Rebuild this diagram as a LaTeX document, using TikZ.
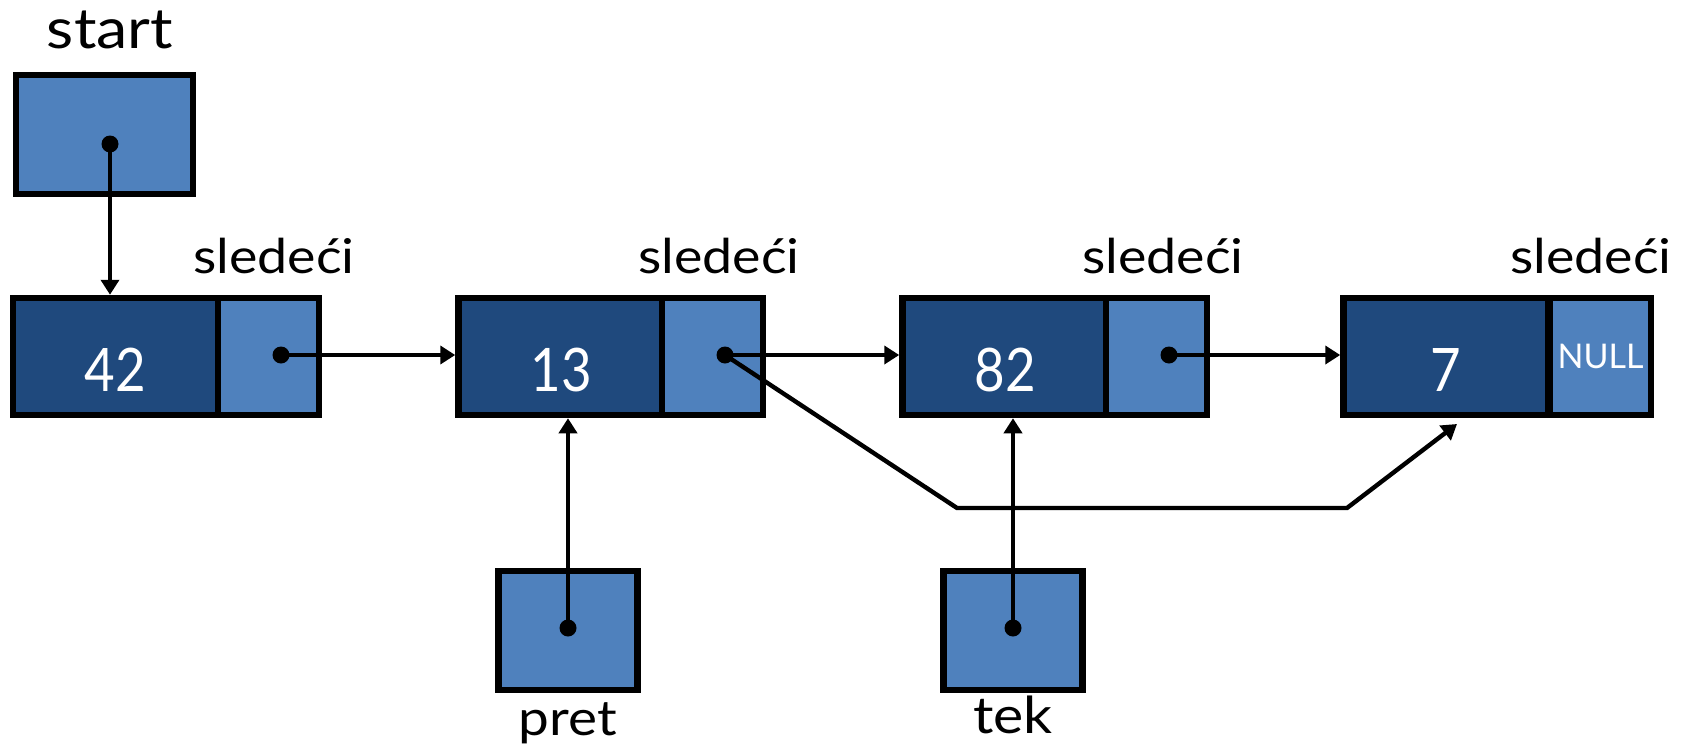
\documentclass[tikz,border=0pt]{standalone}
\usepackage{fontspec}
\setmainfont{Lato}[FakeStretch=1.12]
\newfontfamily\numfont{Lato}[FakeStretch=0.88]
\newfontfamily\plainfont{Lato}
\usetikzlibrary{arrows.meta,calc}
\definecolor{cellDark}{RGB}{31,73,125}
\definecolor{cellLight}{RGB}{79,129,189}
\begin{document}
\begin{tikzpicture}[x=1pt,y=-1pt,
  box/.style={draw=black,line width=6.5pt,inner sep=0pt},
  datacell/.style={box,fill=cellDark,minimum width=205pt,minimum height=117pt,
    text=white,font=\numfont\fontsize{60}{64}\selectfont,text height=70pt,text depth=0pt},
  ptrcell/.style={box,fill=cellLight,minimum width=101pt,minimum height=117pt},
  varbox/.style={box,fill=cellLight,minimum height=119pt},
  link/.style={line width=4.4pt,-{Triangle[length=15pt,width=18pt]}},
  dot/.style={fill=black},
  caption/.style={font=\fontsize{48}{52}\selectfont,inner sep=0pt},
  nullmark/.style={font=\plainfont\fontsize{34}{36}\selectfont,text=white}
]
\useasboundingbox (0,0) rectangle (1681,747);

% list nodes: data cell + pointer cell
\node[datacell] (d1) at (115.5,356.5) {42};
\node[ptrcell]  (p1) at (268.5,356.5) {};
\node[datacell] (d2) at (561,356.5) {13};
\node[ptrcell]  (p2) at (712.5,356.5) {};
\node[datacell] (d3) at (1005,356.5) {82};
\node[ptrcell]  (p3) at (1156.5,356.5) {};
\node[datacell] (d4) at (1446,356.5) {7};
\node[ptrcell,nullmark] (p4) at (1600.5,356.5) {NULL};

% pointer variables
\node[varbox,minimum width=177pt] (start) at (104.5,134.5) {};
\node[varbox,minimum width=139pt] (pret) at (568,630.5) {};
\node[varbox,minimum width=139pt] (tek) at (1013,630.5) {};

% captions
\node[caption,font=\fontsize{56}{60}\selectfont,anchor=base] (tstart) at (110,48) {start};
\node[caption,font=\fontsize{49}{52}\selectfont,anchor=base] (tpret) at (568,735) {pret};
\node[caption,font=\fontsize{51}{54}\selectfont,anchor=base] (ttek) at (1013,733) {tek};
\node[caption,anchor=base east] (s1) at (355,273) {sledeći};
\node[caption,anchor=base east] (s2) at (800,273) {sledeći};
\node[caption,anchor=base east] (s3) at (1244,273) {sledeći};
\node[caption,anchor=base east] (s4) at (1672,273) {sledeći};

% pointer origins
\coordinate (q0) at (110,144);
\coordinate (q1) at (281,355);
\coordinate (q2) at (725,355);
\coordinate (q3) at (1169,355);
\coordinate (qp) at (568,628);
\coordinate (qt) at (1013,628);
\coordinate (b1) at (957,508);
\coordinate (b2) at (1347,508);
\coordinate (tip) at (1457,424);

% links
\draw[link] (q0) -- (q0 |- d1.north);
\draw[link] (q1) -- (q1 -| d2.west);
\draw[link] (q2) -- (q2 -| d3.west);
\draw[link] (q3) -- (q3 -| d4.west);
\draw[link] (qp) -- (qp |- d2.south);
\draw[link] (qt) -- (qt |- d3.south);
\draw[link,line join=miter] (q2) -- (b1) -- (b2) -- (tip);

\foreach \q in {q0,q1,q2,q3,qp,qt} \fill[dot] (\q) circle (8.5pt);
\end{tikzpicture}
\end{document}
